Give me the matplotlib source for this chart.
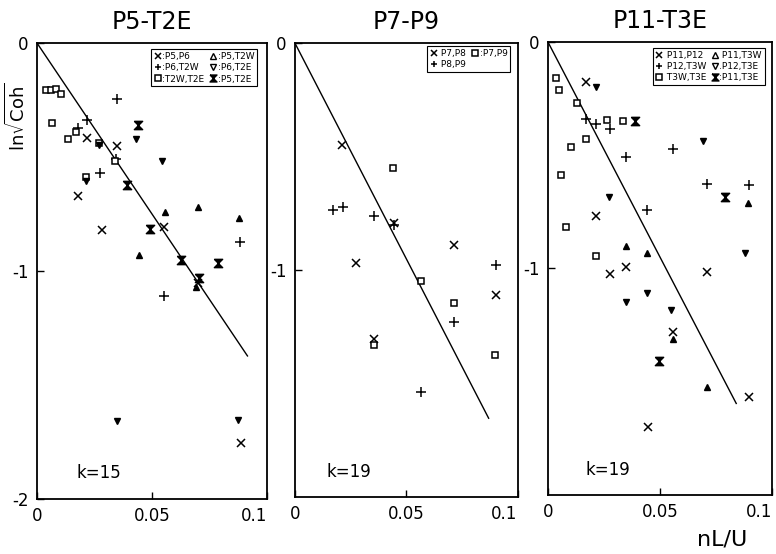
import matplotlib.pyplot as plt
from matplotlib.lines import Line2D

plt.rcParams['axes.unicode_minus'] = False
plt.rcParams['font.family'] = 'DejaVu Sans'

titles = ["P5-T2E", "P7-P9", "P11-T3E"]
k_vals = [15, 19, 19]
line_end = [0.0915, 0.087, 0.084]

# P5-T2E
a_cross_x = [0.0219, 0.0347, 0.0179, 0.0283, 0.0554, 0.070, 0.0889]
a_cross_y = [-0.418, -0.452, -0.670, -0.820, -0.806, -1.051, -1.756]
a_plus_x = [0.0347, 0.0219, 0.0177, 0.0276, 0.0343, 0.0882, 0.0554]
a_plus_y = [-0.247, -0.338, -0.374, -0.569, -0.510, -0.871, -1.108]
a_sq_x = [0.0041, 0.0059, 0.0084, 0.0106, 0.0067, 0.0134, 0.0170, 0.0269, 0.0338, 0.0215]
a_sq_y = [-0.206, -0.206, -0.202, -0.224, -0.352, -0.422, -0.389, -0.440, -0.516, -0.589]
a_up_x = [0.0558, 0.0701, 0.0879, 0.0444, 0.069]
a_up_y = [-0.740, -0.718, -0.769, -0.930, -1.069]
a_dn_x = [0.043, 0.0544, 0.0269, 0.0215, 0.0347, 0.0872]
a_dn_y = [-0.422, -0.516, -0.447, -0.604, -1.657, -1.654]
a_hg_x = [0.044, 0.0393, 0.0493, 0.0625, 0.0785, 0.0704]
a_hg_y = [-0.360, -0.623, -0.816, -0.952, -0.966, -1.030]

# P7-P9
b_cross_x = [0.0211, 0.0444, 0.0276, 0.0715, 0.0901, 0.0355]
b_cross_y = [-0.448, -0.795, -0.968, -0.889, -1.111, -1.302]
b_sq_x = [0.0439, 0.0565, 0.0715, 0.0355, 0.090]
b_sq_y = [-0.550, -1.049, -1.147, -1.332, -1.373]
b_plus_x = [0.0170, 0.0217, 0.0354, 0.0444, 0.0901, 0.0715, 0.0565]
b_plus_y = [-0.735, -0.721, -0.764, -0.802, -0.979, -1.229, -1.539]

# P11-T3E
c_cross_x = [0.017, 0.0216, 0.035, 0.0279, 0.0708, 0.0557, 0.0896, 0.0447]
c_cross_y = [-0.176, -0.770, -0.994, -1.024, -1.016, -1.279, -1.566, -1.702]
c_plus_x = [0.017, 0.0216, 0.0279, 0.035, 0.0557, 0.0708, 0.0896, 0.0444]
c_plus_y = [-0.342, -0.363, -0.386, -0.507, -0.475, -0.628, -0.633, -0.743]
c_sq_x = [0.0035, 0.005, 0.0129, 0.0265, 0.0335, 0.017, 0.0101, 0.006, 0.0082, 0.0214]
c_sq_y = [-0.161, -0.212, -0.271, -0.345, -0.348, -0.431, -0.466, -0.588, -0.817, -0.947]
c_up_x = [0.0893, 0.035, 0.044, 0.056, 0.0711]
c_up_y = [-0.711, -0.903, -0.932, -1.311, -1.522]
c_dn_x = [0.0216, 0.0693, 0.0272, 0.0879, 0.044, 0.0348, 0.0547]
c_dn_y = [-0.200, -0.437, -0.684, -0.932, -1.109, -1.149, -1.182]
c_hg_x = [0.0389, 0.0791, 0.0496]
c_hg_y = [-0.348, -0.684, -1.407]

HG = [(-1, 1), (1, 1), (-1, -1), (1, -1), (-1, 1)]
sty = {
    'x': dict(marker='x', ms=6, mew=1.1, color='k', ls='none'),
    '+': dict(marker='+', ms=7, mew=1.1, color='k', ls='none'),
    's': dict(marker='s', ms=5, mew=1.1, mfc='white', color='k', ls='none'),
    '^': dict(marker='^', ms=5, color='k', ls='none'),
    'v': dict(marker='v', ms=5, color='k', ls='none'),
    'hg': dict(marker=HG, ms=6, color='k', ls='none'),
}

fig = plt.figure(figsize=(7.76, 5.54), dpi=100)
pos = [[0.0477, 0.0993, 0.2964, 0.823],
       [0.380, 0.1029, 0.287, 0.8195],
       [0.706, 0.1065, 0.289, 0.818]]
axs = [fig.add_axes(p) for p in pos]

panels = [
    [('x', a_cross_x, a_cross_y), ('+', a_plus_x, a_plus_y), ('s', a_sq_x, a_sq_y),
     ('^', a_up_x, a_up_y), ('v', a_dn_x, a_dn_y), ('hg', a_hg_x, a_hg_y)],
    [('x', b_cross_x, b_cross_y), ('+', b_plus_x, b_plus_y), ('s', b_sq_x, b_sq_y)],
    [('x', c_cross_x, c_cross_y), ('+', c_plus_x, c_plus_y), ('s', c_sq_x, c_sq_y),
     ('^', c_up_x, c_up_y), ('v', c_dn_x, c_dn_y), ('hg', c_hg_x, c_hg_y)],
]
leg_labels = [
    [':P5,P6', ':P6,T2W', ':T2W,T2E', ':P5,T2W', ':P6,T2E', ':P5,T2E'],
    [' P7,P8', ' P8,P9', ':P7,P9'],
    [' P11,P12', ' P12,T3W', ' T3W,T3E', ' P11,T3W', '.P12,T3E', ':P11,T3E'],
]
leg_anchor = [(0.965, 0.99), (0.975, 0.997), (0.975, 0.99)]

for i, ax in enumerate(axs):
    k = k_vals[i]
    xe = line_end[i]
    ax.plot([0, xe], [0, -k * xe], color='k', lw=1.0, zorder=1)
    for key, xs, ys in panels[i]:
        ax.plot(xs, ys, zorder=3, **sty[key])

    handles = []
    for key, xs, ys in panels[i]:
        s = dict(sty[key])
        if key in ('^', 'v'):
            s['mfc'] = 'none'
        s['ms'] = 5
        handles.append(Line2D([], [], **s))
    leg = ax.legend(handles, leg_labels[i], ncol=2, loc='upper right',
                    bbox_to_anchor=leg_anchor[i], fontsize=6.5,
                    handlelength=0.8, handletextpad=0.1, columnspacing=0.6,
                    labelspacing=0.25, borderpad=0.3, borderaxespad=0.2,
                    fancybox=False, edgecolor='k', framealpha=1)
    leg.get_frame().set_linewidth(0.8)

    ax.set_xlim(0, 0.1)
    ax.set_ylim(-2, 0)
    ax.set_xticks([0, 0.05, 0.1])
    ax.set_xticklabels(['0', '0.05', '0.1'])
    ax.get_xticklabels()[-1].set_ha('right')
    if i == 0:
        ax.set_yticks([0, -1, -2])
        ax.set_yticklabels(['0', '-1', '-2'])
    else:
        ax.set_yticks([0, -1])
        ax.set_yticklabels(['0', '-1'])
    ax.tick_params(direction='in', length=5, width=1, labelsize=12, pad=6)
    for sp in ax.spines.values():
        sp.set_linewidth(1.3)
    ax.set_title(titles[i], fontsize=17, pad=10)
    ax.text(0.17 if i != 1 else 0.14, 0.045, "k=%d" % k, transform=ax.transAxes,
            fontsize=12)

fig.text(0.022, 0.79, r'ln$\sqrt{\mathrm{Coh}}$', rotation=90, fontsize=13,
         ha='center', va='center')
fig.text(0.93, 0.027, 'nL/U', fontsize=16, ha='center', va='center')

fig.savefig('out.png', dpi=100)
